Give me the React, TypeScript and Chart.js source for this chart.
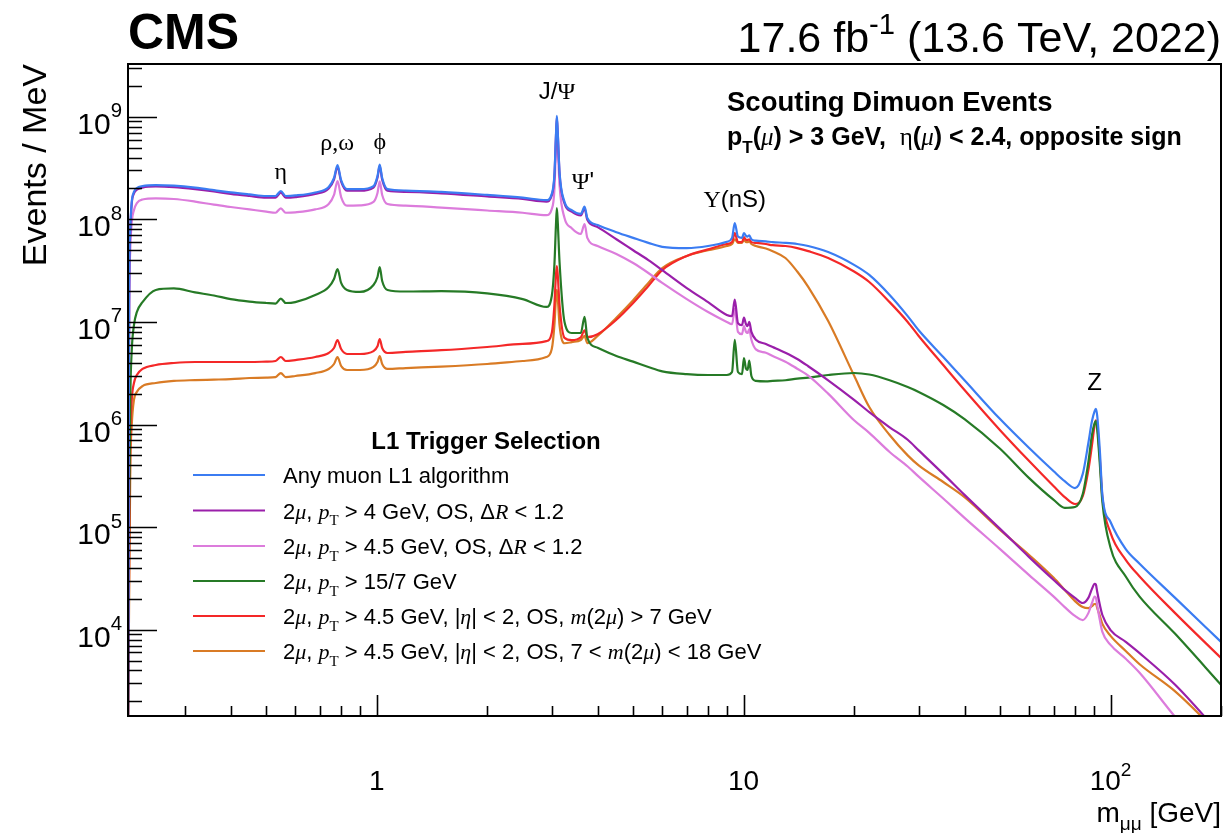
import React, { useEffect, useRef } from "react";
import { Chart, registerables } from "chart.js";

Chart.register(...registerables);

// ---------------- data ----------------
const masses = [
  0.21, 0.2115, 0.213, 0.215, 0.218, 0.222, 0.23, 0.25, 0.28, 0.32,
  0.36, 0.4, 0.45, 0.5, 0.53, 0.548, 0.565, 0.6, 0.68, 0.74,
  0.765, 0.782, 0.8, 0.83, 0.9, 0.98, 1.005, 1.019, 1.035, 1.07,
  1.2, 1.5, 2.0, 2.5, 2.9, 3.0, 3.05, 3.08, 3.097, 3.115,
  3.15, 3.25, 3.4, 3.6, 3.686, 3.75, 4.0, 4.5, 5.0, 5.5,
  6, 7, 8, 9, 9.3, 9.46, 9.65, 9.9, 10.02, 10.15,
  10.25, 10.36, 10.5, 10.8, 11.5, 12, 13, 14, 15, 17,
  20, 22, 25, 28, 30, 35, 40, 50, 60, 70,
  75, 80, 84, 87, 89, 90.5, 91.2, 92, 93.5, 95,
  100, 110, 120, 150, 200,
];

const anyMuon = [
  1e3, 1.6e7, 7.9e7, 1.48e8, 1.85e8, 2.02e8, 2.11e8, 2.16e8, 2.13e8, 2.04e8,
  1.93e8, 1.83e8, 1.75e8, 1.69e8, 1.69e8, 1.89e8, 1.69e8, 1.71e8, 1.83e8, 2.07e8,
  2.53e8, 3.38e8, 2.41e8, 1.97e8, 1.97e8, 2.11e8, 2.64e8, 3.42e8, 2.53e8, 1.97e8,
  1.91e8, 1.85e8, 1.73e8, 1.63e8, 1.54e8, 1.77e8, 2.7e8, 6.6e8, 1.02e9, 7.1e8,
  2.89e8, 1.48e8, 1.23e8, 1.13e8, 1.33e8, 1.03e8, 8.8e7, 7.5e7, 6.6e7, 5.9e7,
  5.4e7, 5.25e7, 5.5e7, 6.05e7, 6.6e7, 9.2e7, 6.8e7, 6.6e7, 7.35e7, 6.9e7,
  6.8e7, 7.0e7, 6.4e7, 6.2e7, 6.1e7, 6.0e7, 5.9e7, 5.75e7, 5.5e7, 4.8e7,
  3.6e7, 2.87e7, 1.83e7, 1.14e7, 8.3e6, 4.55e6, 2.7e6, 1.13e6, 5.9e5, 3.5e5,
  2.8e5, 2.4e5, 3.3e5, 6.6e5, 1.08e6, 1.35e6, 1.42e6, 1.21e6, 5.6e5, 2.06e5,
  1.12e5, 6.1e4, 4.4e4, 2.04e4, 7.6e3,
];

const dimu4 = [
  1e3, 1.5e7, 7.5e7, 1.43e8, 1.79e8, 1.95e8, 2.04e8, 2.09e8, 2.06e8, 1.97e8,
  1.87e8, 1.77e8, 1.69e8, 1.63e8, 1.63e8, 1.82e8, 1.63e8, 1.65e8, 1.77e8, 2.0e8,
  2.44e8, 3.26e8, 2.33e8, 1.9e8, 1.9e8, 2.04e8, 2.55e8, 3.3e8, 2.44e8, 1.9e8,
  1.85e8, 1.79e8, 1.67e8, 1.58e8, 1.49e8, 1.71e8, 2.6e8, 6.4e8, 9.8e8, 6.9e8,
  2.8e8, 1.43e8, 1.19e8, 1.09e8, 1.28e8, 9.9e7, 8.4e7, 6.4e7, 5.0e7, 4.0e7,
  3.2e7, 2.14e7, 1.56e7, 1.17e7, 1.14e7, 1.65e7, 9.75e6, 9.3e6, 1.1e7, 9.5e6,
  9.1e6, 1.0e7, 8.0e6, 6.7e6, 6.1e6, 5.7e6, 5.0e6, 4.35e6, 3.7e6, 2.7e6,
  1.74e6, 1.32e6, 9.4e5, 7.1e5, 5.6e5, 3.3e5, 2.06e5, 9.6e4, 5.1e4, 3.05e4,
  2.44e4, 2.04e4, 1.82e4, 2.04e4, 2.5e4, 2.8e4, 2.75e4, 2.33e4, 1.75e4, 1.39e4,
  9.9e3, 7.6e3, 5.9e3, 2.9e3, 9.4e2,
];

const dimu45 = [
  1e3, 1.05e7, 5.0e7, 9.4e7, 1.23e8, 1.44e8, 1.56e8, 1.6e8, 1.58e8, 1.49e8,
  1.39e8, 1.32e8, 1.25e8, 1.19e8, 1.16e8, 1.28e8, 1.16e8, 1.17e8, 1.25e8, 1.41e8,
  1.73e8, 2.36e8, 1.65e8, 1.36e8, 1.37e8, 1.48e8, 1.81e8, 2.35e8, 1.73e8, 1.41e8,
  1.36e8, 1.3e8, 1.22e8, 1.16e8, 1.1e8, 1.26e8, 1.93e8, 5.3e8, 7.9e8, 5.3e8,
  2.16e8, 1.03e8, 8.2e7, 7.2e7, 9.0e7, 6.6e7, 5.5e7, 4.6e7, 3.75e7, 3.0e7,
  2.4e7, 1.67e7, 1.25e7, 1.0e7, 9.5e6, 1.34e7, 8.0e6, 7.6e6, 9.1e6, 8.0e6,
  7.8e6, 8.5e6, 6.7e6, 5.4e6, 5.0e6, 4.65e6, 4.1e6, 3.5e6, 3.0e6, 2.0e6,
  1.1e6, 8.3e5, 5.4e5, 3.9e5, 3.1e5, 1.9e5, 1.23e5, 6.1e4, 3.4e4, 2.1e4,
  1.66e4, 1.36e4, 1.24e4, 1.45e4, 1.82e4, 2.1e4, 2.05e4, 1.71e4, 1.24e4, 9.5e3,
  7.1e3, 5.2e3, 3.8e3, 1.41e3, 4.3e2,
];

const dimu157 = [
  1e3, 1.17e5, 1.74e6, 5.3e6, 9.3e6, 1.25e7, 1.56e7, 2.05e7, 2.12e7, 1.94e7,
  1.81e7, 1.67e7, 1.58e7, 1.53e7, 1.51e7, 1.69e7, 1.53e7, 1.56e7, 1.83e7, 2.19e7,
  2.62e7, 3.28e7, 2.4e7, 2.05e7, 1.96e7, 2.29e7, 2.74e7, 3.43e7, 2.51e7, 2.05e7,
  1.98e7, 2.0e7, 1.9e7, 1.67e7, 1.4e7, 1.79e7, 3.6e7, 8.8e7, 1.29e8, 9.4e7,
  3.84e7, 1.0e7, 7.8e6, 7.8e6, 1.12e7, 7.0e6, 5.6e6, 4.65e6, 4.1e6, 3.64e6,
  3.3e6, 3.1e6, 3.04e6, 3.04e6, 3.25e6, 6.7e6, 3.25e6, 3.1e6, 4.45e6, 3.5e6,
  3.4e6, 4.2e6, 2.97e6, 2.66e6, 2.63e6, 2.66e6, 2.7e6, 2.8e6, 2.86e6, 3.04e6,
  3.18e6, 3.07e6, 2.7e6, 2.32e6, 2.08e6, 1.55e6, 1.13e6, 5.8e5, 3.0e5, 1.84e5,
  1.54e5, 1.57e5, 2.1e5, 4.3e5, 7.9e5, 1.03e6, 1.08e6, 8.8e5, 4.1e5, 1.76e5,
  6.3e4, 3.3e4, 2.1e4, 9.1e3, 2.9e3,
];

const dimu45m7 = [
  1e3, 4.8e4, 7.1e5, 1.74e6, 2.54e6, 3.04e6, 3.48e6, 3.8e6, 3.98e6, 4.07e6,
  4.07e6, 4.07e6, 4.07e6, 4.1e6, 4.16e6, 4.55e6, 4.16e6, 4.25e6, 4.55e6, 4.98e6,
  5.57e6, 6.66e6, 5.44e6, 4.87e6, 4.87e6, 5.2e6, 5.8e6, 6.8e6, 5.57e6, 4.98e6,
  5.1e6, 5.3e6, 5.7e6, 6.1e6, 6.5e6, 7.8e6, 1.46e7, 2.87e7, 3.5e7, 2.87e7,
  1.46e7, 7.0e6, 6.66e6, 7.1e6, 8.3e6, 7.1e6, 7.6e6, 1.05e7, 1.53e7, 2.24e7,
  3.2e7, 4.4e7, 5.1e7, 5.75e7, 6.0e7, 7.35e7, 6.0e7, 6.0e7, 6.7e7, 6.3e7,
  6.3e7, 6.4e7, 6.0e7, 5.9e7, 5.75e7, 5.6e7, 5.5e7, 5.25e7, 4.9e7, 4.2e7,
  3.1e7, 2.45e7, 1.56e7, 1.0e7, 7.3e6, 3.8e6, 2.17e6, 8.8e5, 4.4e5, 2.5e5,
  1.96e5, 1.68e5, 2.0e5, 3.6e5, 6.3e5, 9.9e5, 1.1e6, 9.7e5, 4.7e5, 1.96e5,
  8.8e4, 4.8e4, 3.3e4, 1.45e4, 5.3e3,
];

const dimu45m7to18 = [
  1e3, 1.95e4, 3.6e5, 9.9e5, 1.74e6, 2.08e6, 2.37e6, 2.54e6, 2.66e6, 2.71e6,
  2.74e6, 2.77e6, 2.84e6, 2.87e6, 2.9e6, 3.17e6, 2.9e6, 2.97e6, 3.17e6, 3.48e6,
  3.89e6, 4.55e6, 3.72e6, 3.4e6, 3.4e6, 3.64e6, 4.07e6, 4.65e6, 3.89e6, 3.48e6,
  3.55e6, 3.67e6, 3.89e6, 4.16e6, 4.55e6, 5.44e6, 9.3e6, 1.71e7, 2.05e7, 1.71e7,
  9.3e6, 6.2e6, 6.36e6, 6.66e6, 7.3e6, 6.2e6, 7.3e6, 1.1e7, 1.63e7, 2.4e7,
  3.35e7, 4.4e7, 5.0e7, 5.5e7, 5.75e7, 6.4e7, 5.9e7, 5.9e7, 6.3e7, 6.0e7,
  6.0e7, 6.1e7, 5.75e7, 5.5e7, 5.2e7, 4.9e7, 4.2e7, 3.1e7, 2.2e7, 1.02e7,
  3.0e6, 1.48e6, 7.9e5, 5.0e5, 4.0e5, 2.75e5, 1.96e5, 9.4e4, 5.35e4, 3.2e4,
  2.44e4, 1.9e4, 1.66e4, 1.62e4, 1.7e4, 1.78e4, 1.78e4, 1.62e4, 1.36e4, 1.14e4,
  8.7e3, 6.2e3, 4.6e3, 2.5e3, 9.2e2,
];

const seriesLabels = [
  "Any muon L1 algorithm",
  "2μ, pT > 4 GeV, OS, ΔR < 1.2",
  "2μ, pT > 4.5 GeV, OS, ΔR < 1.2",
  "2μ, pT > 15/7 GeV",
  "2μ, pT > 4.5 GeV, |η| < 2, OS, m(2μ) > 7 GeV",
  "2μ, pT > 4.5 GeV, |η| < 2, OS, 7 < m(2μ) < 18 GeV",
];
const seriesValues = [anyMuon, dimu4, dimu45, dimu157, dimu45m7, dimu45m7to18];
const seriesColors = ["#3b7cf2", "#9a1faa", "#dc7cdc", "#267a26", "#f42828", "#d97b25"];

const xMin = 0.21;
const xMax = 200;
const yMin = 1.44e3;
const yMax = 3.27e9;
const xMajorTicks = [1, 10, 100];
const xTickBase = ["1", "10", "10"];
const xTickExp = ["", "", "2"];
const yMajorExps = [4, 5, 6, 7, 8, 9];

// peak annotations (mass, height in data units)
const peakMass = [0.548, 0.78, 1.02, 3.1, 3.65, 9.46, 90.5];
const peakValue = [3.0e8, 5.7e8, 5.9e8, 1.82e9, 2.4e8, 1.6e8, 2.6e6];

// ---------------- rich text helpers ----------------
type Seg = { t: string; it?: boolean; b?: boolean; serif?: boolean; sub?: boolean; sup?: boolean };
const SANS = "'Liberation Sans', Arial, Helvetica, sans-serif";
const SERIF = "'Liberation Serif', 'DejaVu Serif', serif";

function segFont(s: Seg, size: number) {
  const sz = s.sub || s.sup ? size * 0.68 : size;
  return `${s.it ? "italic " : ""}${s.b ? "bold " : ""}${sz}px ${s.serif ? SERIF : SANS}`;
}
function richWidth(ctx: CanvasRenderingContext2D, segs: Seg[], size: number) {
  let w = 0;
  for (const s of segs) {
    ctx.font = segFont(s, size);
    w += ctx.measureText(s.t).width;
  }
  return w;
}
function drawRich(
  ctx: CanvasRenderingContext2D,
  segs: Seg[],
  x: number,
  y: number,
  size: number,
  align: "left" | "right" | "center",
  supRaise = 0.45,
) {
  const w = richWidth(ctx, segs, size);
  let cx = align === "left" ? x : align === "right" ? x - w : x - w / 2;
  ctx.textAlign = "left";
  ctx.textBaseline = "alphabetic";
  ctx.fillStyle = "#000";
  for (const s of segs) {
    ctx.font = segFont(s, size);
    const dy = s.sub ? size * 0.3 : s.sup ? -size * supRaise : 0;
    ctx.fillText(s.t, cx, y + dy);
    cx += ctx.measureText(s.t).width;
  }
}

const mu: Seg = { t: "μ", it: true, serif: true };
const pT: Seg[] = [{ t: "p", it: true, serif: true }, { t: "T", sub: true, serif: true }];
const legendSegs: Seg[][] = [
  [{ t: "Any muon L1 algorithm" }],
  [{ t: "2" }, mu, { t: ", " }, ...pT, { t: " > 4 GeV, OS, Δ" }, { t: "R", it: true, serif: true }, { t: " < 1.2" }],
  [{ t: "2" }, mu, { t: ", " }, ...pT, { t: " > 4.5 GeV, OS, Δ" }, { t: "R", it: true, serif: true }, { t: " < 1.2" }],
  [{ t: "2" }, mu, { t: ", " }, ...pT, { t: " > 15/7 GeV" }],
  [{ t: "2" }, mu, { t: ", " }, ...pT, { t: " > 4.5 GeV, |" }, { t: "η", it: true, serif: true }, { t: "| < 2, OS, " }, { t: "m", it: true, serif: true }, { t: "(2" }, mu, { t: ") > 7 GeV" }],
  [{ t: "2" }, mu, { t: ", " }, ...pT, { t: " > 4.5 GeV, |" }, { t: "η", it: true, serif: true }, { t: "| < 2, OS, 7 < " }, { t: "m", it: true, serif: true }, { t: "(2" }, mu, { t: ") < 18 GeV" }],
];
const peakSegs: Seg[][] = [
  [{ t: "η", serif: true }],
  [{ t: "ρ,ω", serif: true }],
  [{ t: "ϕ", serif: true }],
  [{ t: "J/" }, { t: "Ψ", serif: true }],
  [{ t: "Ψ", serif: true }, { t: "'" }],
  [{ t: "Υ", serif: true }, { t: "(nS)" }],
  [{ t: "Z" }],
];

const W = 1226;
const H = 833;

const overlayPlugin = {
  id: "cmsOverlay",
  beforeDraw(chart: any) {
    const ctx = chart.ctx as CanvasRenderingContext2D;
    ctx.save();
    ctx.fillStyle = "#fff";
    ctx.fillRect(0, 0, chart.width, chart.height);
    ctx.restore();
  },
  afterDraw(chart: any) {
    const ctx = chart.ctx as CanvasRenderingContext2D;
    const a = chart.chartArea;
    const xs = chart.scales.x;
    const ys = chart.scales.y;
    ctx.save();

    // frame
    ctx.strokeStyle = "#000";
    ctx.lineWidth = 2;
    ctx.strokeRect(a.left, a.top, a.right - a.left, a.bottom - a.top);

    // y ticks
    ctx.lineWidth = 1.6;
    ctx.beginPath();
    for (let e = 3; e <= 9; e++) {
      for (let k = 1; k <= 9; k++) {
        const v = k * Math.pow(10, e);
        if (v < yMin || v > yMax) continue;
        const py = Math.round(ys.getPixelForValue(v)) + 0.5;
        const len = k === 1 ? 29 : 14;
        ctx.moveTo(a.left, py);
        ctx.lineTo(a.left + len, py);
      }
    }
    // x ticks
    for (let e = -1; e <= 2; e++) {
      for (let k = 1; k <= 9; k++) {
        const v = k * Math.pow(10, e);
        if (v < xMin || v > xMax) continue;
        const px = Math.round(xs.getPixelForValue(v)) + 0.5;
        const len = k === 1 ? 21 : 10;
        ctx.moveTo(px, a.bottom);
        ctx.lineTo(px, a.bottom - len);
      }
    }
    ctx.stroke();

    // y labels
    for (const e of yMajorExps) {
      const py = ys.getPixelForValue(Math.pow(10, e));
      drawRich(ctx, [{ t: "10" }, { t: String(e), sup: true }], 122, py + 17, 30, "right", 0.55);
    }
    // x labels
    xMajorTicks.forEach((v, i) => {
      const px = xs.getPixelForValue(v);
      const segs: Seg[] = [{ t: xTickBase[i] }];
      if (xTickExp[i]) segs.push({ t: xTickExp[i], sup: true });
      drawRich(ctx, segs, px, 790, 28, "center", 0.5);
    });

    // axis titles
    drawRich(ctx, [{ t: "m" }, { t: "μμ", sub: true }, { t: " [GeV]" }], a.right, 822, 28, "right");
    ctx.save();
    ctx.translate(46, a.top);
    ctx.rotate(-Math.PI / 2);
    ctx.font = `34px ${SANS}`;
    ctx.fillStyle = "#000";
    ctx.textAlign = "right";
    ctx.textBaseline = "alphabetic";
    ctx.fillText("Events / MeV", 0, 0);
    ctx.restore();

    // CMS + lumi
    drawRich(ctx, [{ t: "CMS", b: true }], a.left, 49, 50, "left");
    drawRich(ctx, [{ t: "17.6 fb" }, { t: "-1", sup: true }, { t: " (13.6 TeV, 2022)" }], a.right, 52, 43, "right", 0.42);

    // selection text
    drawRich(ctx, [{ t: "Scouting Dimuon Events", b: true }], 727, 111, 27.5, "left");
    drawRich(
      ctx,
      [
        { t: "p", b: true },
        { t: "T", b: true, sub: true },
        { t: "(", b: true },
        { t: "μ", it: true, serif: true },
        { t: ") > 3 GeV,  ", b: true },
        { t: "η", serif: true },
        { t: "(", b: true },
        { t: "μ", it: true, serif: true },
        { t: ") < 2.4, opposite sign", b: true },
      ],
      727,
      145,
      25,
      "left",
    );

    // peak labels
    peakSegs.forEach((segs, i) => {
      const px = xs.getPixelForValue(peakMass[i]);
      const py = ys.getPixelForValue(peakValue[i]);
      drawRich(ctx, segs, px, py + 8.5, 24, "center");
    });

    // legend
    drawRich(ctx, [{ t: "L1 Trigger Selection", b: true }], 486, 449, 24, "center");
    const rowY = [475, 510.5, 546, 581, 616, 651];
    legendSegs.forEach((segs, i) => {
      ctx.strokeStyle = seriesColors[i];
      ctx.lineWidth = 2;
      ctx.beginPath();
      ctx.moveTo(193, rowY[i]);
      ctx.lineTo(265, rowY[i]);
      ctx.stroke();
      drawRich(ctx, segs, 283, rowY[i] + 8, 22, "left");
    });

    ctx.restore();
  },
};

export default function App() {
  const ref = useRef<HTMLCanvasElement>(null);
  useEffect(() => {
    const canvas = ref.current;
    if (!canvas) return;
    const chart = new Chart(canvas, {
      type: "line",
      data: {
        datasets: seriesValues.map((vals, i) => ({
          label: seriesLabels[i],
          data: masses.map((m, j) => ({ x: m, y: vals[j] })),
          borderColor: seriesColors[i],
          backgroundColor: seriesColors[i],
          borderWidth: 2.2,
          pointRadius: 0,
          cubicInterpolationMode: "monotone",
          fill: false,
        })),
      },
      options: {
        responsive: false,
        animation: false,
        devicePixelRatio: 1,
        layout: { padding: { left: 128, top: 64, right: W - 1221, bottom: H - 716 } },
        plugins: {
          legend: { display: false },
          tooltip: { enabled: false },
          title: { display: false },
        },
        events: [],
        scales: {
          x: { type: "logarithmic", min: xMin, max: xMax, display: false, bounds: "data" },
          y: { type: "logarithmic", min: yMin, max: yMax, display: false, bounds: "data" },
        },
      },
      plugins: [overlayPlugin],
    } as any);
    return () => chart.destroy();
  }, []);
  return (
    <div style={{ position: "fixed", left: 0, top: 0, width: W, height: H, background: "#fff" }}>
      <canvas ref={ref} width={W} height={H} style={{ width: W, height: H, display: "block" }} />
    </div>
  );
}
